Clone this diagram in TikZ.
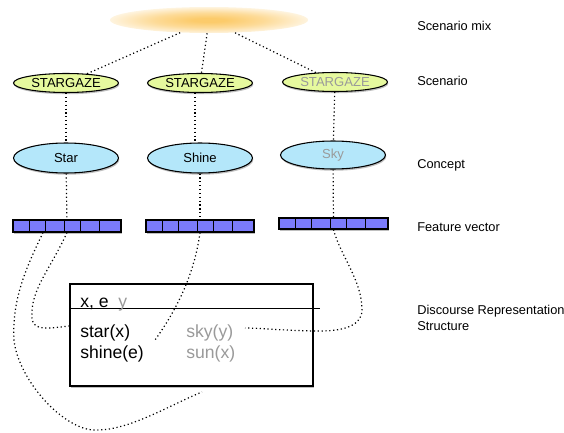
\documentclass[tikz,border=0pt]{standalone}
\usepackage{fontspec}
\setmainfont{Liberation Sans}
\usetikzlibrary{shapes.geometric,shadows}

\definecolor{mixorange}{HTML}{FCCB6B}
\definecolor{scgreen}{HTML}{E6F99E}
\definecolor{coblue}{HTML}{B4E7FA}
\definecolor{fvblue}{HTML}{7B7BFB}
\definecolor{softgrey}{HTML}{9A9A9A}
\pgfdeclareradialshading{mixglow}{\pgfpoint{0bp}{0bp}}{color(0bp)=(mixorange); color(4bp)=(mixorange); color(14bp)=(mixorange!70!white); color(25bp)=(mixorange!22!white); color(50bp)=(white)}

\begin{document}
\begin{tikzpicture}[x=0.75pt, y=-0.75pt,
        shade/.style={drop shadow={shadow xshift=0.6pt, shadow yshift=-1.3pt, opacity=0.5}},
        scen/.style={ellipse, draw, line width=0.8pt, fill=scgreen, inner sep=0pt, minimum width=78.75pt, minimum height=14.25pt, font=\fontsize{9.8}{11}\selectfont, shade},
        conc/.style={scen, fill=coblue, minimum height=22.5pt},
        feat/.style={rectangle, draw, line width=0.8pt, fill=fvblue, inner sep=0pt, minimum width=81pt, minimum height=9pt, shade},
        conn/.style={dotted, line width=0.9pt},
        lab/.style={font=\fontsize{9.6}{11.5}\selectfont, align=left, inner sep=0pt},
        drstext/.style={anchor=base west, inner sep=0pt, font=\fontsize{13.2}{16}\selectfont}]
        \useasboundingbox (0,0) rectangle (564,432);

        % livello dello scenario misto
        \node[ellipse, shading=mixglow, minimum width=148.5pt, minimum height=19.5pt] (mix) at (209,20) {};

        \node[scen] (sc1) at (66,83) {STARGAZE};
        \node[scen] (sc2) at (200,83) {STARGAZE};
        \node[scen, text=softgrey] (sc3) at (335,82) {STARGAZE};

        \node[conc] (co1) at (66,158) {Star};
        \node[conc] (co2) at (200,158) {Shine};
        \node[conc, minimum height=21pt, text=softgrey] (co3) at (333,155) {Sky};

        \node[feat] (fv1) at (67,226) {};
        \node[feat] (fv2) at (200,226) {};
        \node[feat, minimum width=81.75pt, minimum height=8.25pt] (fv3) at (333.5,223.5) {};
        \foreach \v in {fv1,fv2,fv3}
            \foreach \d in {17,33,52,68,87}
                \draw[line width=0.6pt] ([xshift=\d*0.75pt]\v.north west) -- ([xshift=\d*0.75pt]\v.south west);

        % struttura DRS
        \node[rectangle, draw, line width=0.9pt, fill=white, minimum width=182.25pt, minimum height=76.5pt, shade] (drs) at (191.5,335) {};
        \draw[line width=1.1pt] ([yshift=-18.75pt]drs.north west) -- ++(251,0);
        \node[drstext] (vars) at (80,307) {x, e\ \ \textcolor{softgrey}{y}};
        \node[drstext] (star) at (80,337) {star(x)};
        \node[drstext] (shine) at (80,358) {shine(e)};
        \node[drstext, text=softgrey] (sky) at (186,337) {sky(y)};
        \node[drstext, text=softgrey] (sun) at (186,358) {sun(x)};

        \coordinate (e1) at (202,392);
        \coordinate (e2) at (155,340);
        \coordinate (e3) at (245,328);

        \draw[conn] (mix) -- (sc1);
        \draw[conn] (mix) -- (sc2);
        \draw[conn] (mix) -- (sc3);
        \draw[conn] (sc1) -- (co1);
        \draw[conn] ([xshift=-3.75pt]sc2.south) -- ([xshift=-3.75pt]co2.north);
        \draw[conn] (sc3) -- (co3);
        \draw[conn] (co1) -- (fv1);
        \draw[conn] (co2) -- (fv2);
        \draw[conn] (co3) -- (fv3);

        \draw[conn] (fv1.south) .. controls (50,270) and (30,290) .. (32,318) .. controls (33,332) and (50,328) .. ([yshift=6.75pt]drs.west);
        \draw[conn] ([xshift=-18pt]fv1.south) .. controls (25,270) and (12,300) .. (14,340) .. controls (18,380) and (65,432) .. (97,430) .. controls (130,430) and (170,405) .. (e1);
        \draw[conn] (fv2.south) .. controls (195,270) and (180,305) .. (e2);
        \draw[conn] (fv3.south) .. controls (340,255) and (362,280) .. (362,310) .. controls (362,325) and (345,331) .. (320,331) .. controls (290,331) and (260,328) .. (e3);

        \node[lab, anchor=base west] (lmix) at (417,31) {Scenario mix};
        \node[lab, anchor=base west] (lsc) at (417,85) {Scenario};
        \node[lab, anchor=base west] (lco) at (417,168) {Concept};
        \node[lab, anchor=base west] (lfv) at (417,231) {Feature vector};
        \node[lab, anchor=west] (ldrs) at (417,318) {Discourse Representation\\Structure};
\end{tikzpicture}
\end{document}
